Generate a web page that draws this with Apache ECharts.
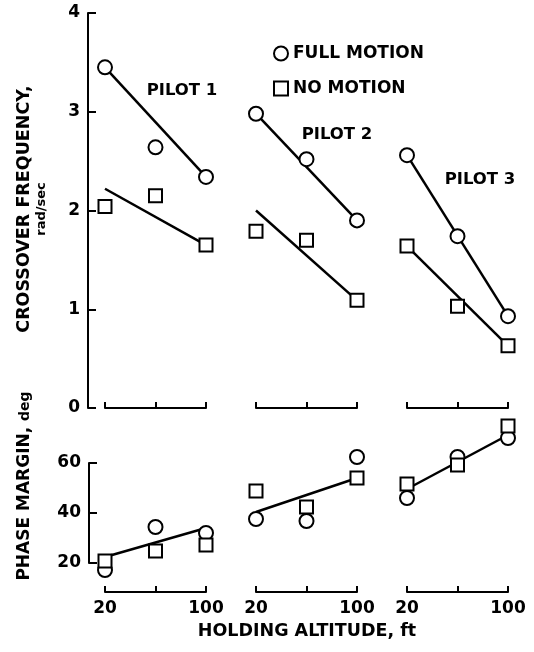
<!DOCTYPE html>
<html><head><meta charset="utf-8">
<script src="https://cdn.jsdelivr.net/npm/echarts@6/dist/echarts.min.js"></script>
<style>html,body{margin:0;padding:0;background:#fff}#c{width:534px;height:652px}</style>
</head><body><div id="c"></div>
<script>
// ---- data ----
const altitudes = ['20', '60', '100'];          // holding altitude, ft (middle tick unlabelled)
const pilots = ['PILOT 1', 'PILOT 2', 'PILOT 3'];
const cfTicks = [0, 4, 1];                      // crossover freq axis min, max, step (rad/sec)
const pmTicks = [20, 60, 20];                   // phase margin axis min, max, step (deg)
// crossover frequency, rad/sec, per pilot at 20 / mid / 100 ft
const cfFullMotion = [[3.45, 2.64, 2.34], [2.98, 2.52, 1.90], [2.56, 1.74, 0.93]];
const cfNoMotion   = [[2.04, 2.15, 1.65], [1.79, 1.70, 1.09], [1.64, 1.03, 0.63]];
// fitted lines (value at 20 ft, value at 100 ft)
const cfFullFit = [[3.45, 2.34], [2.98, 1.90], [2.56, 0.93]];
const cfNoFit   = [[2.22, 1.65], [2.00, 1.09], [1.64, 0.63]];
// phase margin, deg
const pmFullMotion = [[17.2, 34.4, 32.0], [37.6, 36.8, 62.4], [46.0, 62.4, 70.0]];
const pmNoMotion   = [[20.8, 24.8, 27.2], [48.8, 42.4, 54.0], [51.6, 59.2, 74.8]];
const pmFit        = [[22.4, 34.0], [40.4, 54.0], [49.6, 71.2]];

// ---- layout ----
const FONT = 'DejaVu Sans';
const groupLeft = [105, 256, 407];
const groupWidth = 101;
const lineCol = '#000';

const grids = [
  { left: 88, top: 13, width: 10, height: 395 },   // top y axis
  { left: 89, top: 463, width: 10, height: 100 }   // bottom y axis
];
const xAxes = [
  { gridIndex: 0, type: 'value', show: false },
  { gridIndex: 1, type: 'value', show: false }
];
const axisLbl = { color: '#000', fontFamily: FONT, fontWeight: 'bold', fontSize: 17 };
const yAxes = [
  { gridIndex: 0, type: 'value', min: cfTicks[0], max: cfTicks[1], interval: cfTicks[2],
    axisLine: { show: true, lineStyle: { color: lineCol, width: 2 } },
    axisTick: { show: true, inside: true, length: 8, lineStyle: { color: lineCol, width: 2 } },
    axisLabel: Object.assign({ margin: 8 }, axisLbl), splitLine: { show: false } },
  { gridIndex: 1, type: 'value', min: pmTicks[0], max: pmTicks[1], interval: pmTicks[2],
    axisLine: { show: true, lineStyle: { color: lineCol, width: 2 } },
    axisTick: { show: true, inside: true, length: 8, lineStyle: { color: lineCol, width: 2 } },
    axisLabel: Object.assign({ margin: 8 }, axisLbl), splitLine: { show: false } }
];
const series = [];
const markStyle = { color: '#fff', borderColor: lineCol, borderWidth: 2, opacity: 1 };
const fitLine = (gi, fit) => ({
  type: 'line', xAxisIndex: gi, yAxisIndex: gi, silent: true, symbol: 'none', z: 2,
  lineStyle: { color: lineCol, width: 2.5 },
  data: [[altitudes[0], fit[0]], [altitudes[altitudes.length - 1], fit[1]]]
});
const marks = (gi, name, sym, size, vals) => ({
  type: 'scatter', name: name, xAxisIndex: gi, yAxisIndex: gi, symbol: sym, symbolSize: size,
  z: 3, itemStyle: markStyle, data: vals.map((v, k) => [altitudes[k], v])
});

for (let i = 0; i < 3; i++) {
  let gi = grids.length;
  grids.push({ left: groupLeft[i], top: 13, width: groupWidth, height: 395 });
  xAxes.push({ gridIndex: gi, type: 'category', data: altitudes, boundaryGap: false, offset: 2,
    axisLine: { lineStyle: { color: lineCol, width: 2 } },
    axisTick: { inside: true, length: 6, interval: 0, lineStyle: { color: lineCol, width: 2 } },
    axisLabel: { show: false } });
  yAxes.push({ gridIndex: gi, type: 'value', min: cfTicks[0], max: cfTicks[1], show: false });
  series.push(fitLine(gi, cfFullFit[i]), fitLine(gi, cfNoFit[i]),
    marks(gi, 'FULL MOTION', 'circle', 14, cfFullMotion[i]),
    marks(gi, 'NO MOTION', 'rect', 13, cfNoMotion[i]));
}
for (let i = 0; i < 3; i++) {
  let gi = grids.length;
  grids.push({ left: groupLeft[i], top: 413, width: groupWidth, height: 175 });
  xAxes.push({ gridIndex: gi, type: 'category', data: altitudes, boundaryGap: false, offset: 4,
    axisLine: { lineStyle: { color: lineCol, width: 2 } },
    axisTick: { inside: true, length: 6, interval: 0, lineStyle: { color: lineCol, width: 2 } },
    axisLabel: Object.assign({ margin: 8, interval: 0,
      formatter: (v, idx) => (idx === 0 || idx === altitudes.length - 1) ? v : '' }, axisLbl) });
  yAxes.push({ gridIndex: gi, type: 'value', min: 10, max: 80, show: false });
  series.push(fitLine(gi, pmFit[i]),
    marks(gi, 'FULL MOTION', 'circle', 14, pmFullMotion[i]),
    marks(gi, 'NO MOTION', 'rect', 13, pmNoMotion[i]));
}

const pilotPos = [[182, 91], [337, 135], [480, 180]];
const graphic = pilots.map((p, i) => ({
  type: 'text', x: pilotPos[i][0], y: pilotPos[i][1],
  style: { text: p, fill: '#000', font: 'bold 16.5px "' + FONT + '"', align: 'center', verticalAlign: 'middle' }
}));
graphic.push(
  { type: 'text', x: 24, y: 209, rotation: Math.PI / 2,
    style: { text: 'CROSSOVER FREQUENCY,', fill: '#000', font: 'bold 17.5px "' + FONT + '"', align: 'center', verticalAlign: 'middle' } },
  { type: 'text', x: 42, y: 209, rotation: Math.PI / 2,
    style: { text: 'rad/sec', fill: '#000', font: 'bold 13px "' + FONT + '"', align: 'center', verticalAlign: 'middle' } },
  { type: 'text', x: 25, y: 486, rotation: Math.PI / 2,
    style: { text: '{a|PHASE MARGIN, }{b|deg}', align: 'center', verticalAlign: 'middle',
      rich: { a: { fill: '#000', fontFamily: FONT, fontWeight: 'bold', fontSize: 17 },
              b: { fill: '#000', fontFamily: FONT, fontWeight: 'bold', fontSize: 14 } } } },
  { type: 'text', x: 307, y: 631,
    style: { text: 'HOLDING ALTITUDE, ft', fill: '#000', font: 'bold 17.5px "' + FONT + '"', align: 'center', verticalAlign: 'middle' } }
);

const chart = echarts.init(document.getElementById('c'), null, { renderer: 'canvas' });
chart.setOption({
  animation: false,
  backgroundColor: '#fff',
  grid: grids, xAxis: xAxes, yAxis: yAxes, series: series, graphic: graphic,
  legend: {
    left: 273, top: 45, orient: 'vertical', itemGap: 18, itemWidth: 14, itemHeight: 14,
    selectedMode: false, padding: 0,
    textStyle: { color: '#000', fontFamily: FONT, fontWeight: 'bold', fontSize: 17 },
    data: [
      { name: 'FULL MOTION', icon: 'circle', itemStyle: markStyle },
      { name: 'NO MOTION', icon: 'rect', itemStyle: markStyle }
    ]
  }
});
</script></body></html>
